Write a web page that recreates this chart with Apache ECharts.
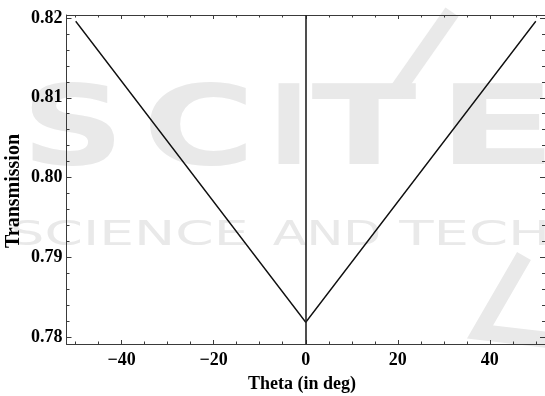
<!DOCTYPE html>
<html>
<head>
<meta charset="utf-8">
<style>
  html, body { margin: 0; padding: 0; background: #ffffff; }
  #chart { width: 545px; height: 396px; }
</style>
<script src="https://cdn.jsdelivr.net/npm/echarts@6/dist/echarts.min.js"></script>
</head>
<body>
<div id="chart"></div>
<script>
// Transmission versus incidence angle
const theta = [-50, 0, 50];
const transmission = [0.8196, 0.78185, 0.8196];
// angle where the curve jumps
const jumpTheta = [0];

// frame ticks
const xMajorTicks = [-40, -20, 0, 20, 40];
const xMinorTicks = [-50, -45, -35, -30, -25, -15, -10, -5, 5, 10, 15, 25, 30, 35, 45, 50];
const yMajorTicks = [0.78, 0.79, 0.80, 0.81, 0.82];
const yMinorTicks = [0.782, 0.784, 0.786, 0.788, 0.792, 0.794, 0.796, 0.798,
                     0.802, 0.804, 0.806, 0.808, 0.812, 0.814, 0.816, 0.818];

const xRange = [-52, 52];
const yRange = [0.77912, 0.82038];

const serif = '"Liberation Serif", "Times New Roman", serif';
const frameColor = '#3a3a3a';

function xAxisDef(position, ticks, len, withLine, withLabels) {
  return {
    type: 'value', position: position, min: xRange[0], max: xRange[1],
    axisLine: { show: withLine, onZero: false, lineStyle: { color: frameColor, width: 1 } },
    axisTick: { show: true, inside: true, length: len, customValues: ticks,
                lineStyle: { color: frameColor, width: 1 } },
    axisLabel: withLabels ? {
      show: true, customValues: ticks, margin: 7,
      fontFamily: serif, fontWeight: 'bold', fontSize: 18, color: '#000',
      formatter: v => (v < 0 ? '\u2212' + Math.abs(v) : String(v))
    } : { show: false },
    splitLine: { show: false }
  };
}

function yAxisDef(position, ticks, len, withLine, withLabels) {
  return {
    type: 'value', position: position, min: yRange[0], max: yRange[1],
    axisLine: { show: withLine, onZero: false, lineStyle: { color: frameColor, width: 1 } },
    axisTick: { show: true, inside: true, length: len, customValues: ticks,
                lineStyle: { color: frameColor, width: 1 } },
    axisLabel: withLabels ? {
      show: true, customValues: ticks, margin: 4,
      fontFamily: serif, fontWeight: 'bold', fontSize: 18, color: '#000',
      formatter: v => v.toFixed(2)
    } : { show: false },
    splitLine: { show: false }
  };
}

// faint publisher mark behind the plot
const markColor = '#e9e9e9';
const markFont = '"DejaVu Sans", sans-serif';
function bigLetter(ch, cx, sx) {
  return { type: 'text', x: cx, y: 135, scaleX: sx, z: -10, silent: true,
           style: { text: ch, font: 'bold 110px ' + markFont, fill: markColor,
                    align: 'center', verticalAlign: 'middle' } };
}
function smallWord(w, cx, sx) {
  return { type: 'text', x: cx, y: 236, scaleX: sx, z: -10, silent: true,
           style: { text: w, font: 'normal 34px ' + markFont, fill: markColor,
                    align: 'center', verticalAlign: 'middle' } };
}

const chart = echarts.init(document.getElementById('chart'), null, { renderer: 'canvas' });
chart.setOption({
  animation: false,
  backgroundColor: '#ffffff',
  grid: { left: 66.5, top: 15, width: 481, height: 329, containLabel: false },
  xAxis: [
    xAxisDef('bottom', xMajorTicks, 4, true, true),
    xAxisDef('bottom', xMinorTicks, 2.5, false, false),
    xAxisDef('top', xMajorTicks, 4, true, false),
    xAxisDef('top', xMinorTicks, 2.5, false, false)
  ],
  yAxis: [
    yAxisDef('left', yMajorTicks, 5, true, true),
    yAxisDef('left', yMinorTicks, 3, false, false),
    yAxisDef('right', yMajorTicks, 5, true, false),
    yAxisDef('right', yMinorTicks, 3, false, false)
  ],
  graphic: {
    elements: [
      bigLetter('S', 73, 1.3),
      bigLetter('C', 199, 1.4),
      bigLetter('I', 289, 1.0),
      bigLetter('T', 364, 1.4),
      bigLetter('E', 497, 1.6),
      smallWord('SCIENCE', 129, 1.62),
      smallWord('AND', 327, 1.45),
      smallWord('TECHNOLOGY', 592, 1.65),
      { type: 'polyline', z: -10, silent: true,
        shape: { points: [[396, 92], [452, 12]] },
        style: { stroke: markColor, lineWidth: 16, fill: null } },
      { type: 'polyline', z: -10, silent: true,
        shape: { points: [[524, 256], [480, 332], [548, 340]] },
        style: { stroke: markColor, lineWidth: 16, fill: null, lineJoin: 'miter' } },
      { type: 'text', x: 302, y: 384, silent: true,
        style: { text: 'Theta (in deg)', font: 'bold 18px ' + serif, fill: '#000',
                 align: 'center', verticalAlign: 'middle' } },
      { type: 'text', x: 14, y: 191, rotation: Math.PI / 2, silent: true,
        style: { text: 'Transmission', font: 'bold 20px ' + serif, fill: '#000',
                 align: 'center', verticalAlign: 'middle' } }
    ]
  },
  series: [
    {
      type: 'line',
      xAxisIndex: 0, yAxisIndex: 0,
      data: theta.map((t, i) => [t, transmission[i]]),
      showSymbol: false,
      lineStyle: { color: '#111111', width: 1.4 },
      markLine: {
        silent: true, symbol: 'none', label: { show: false },
        lineStyle: { color: '#222222', width: 1.6, type: 'solid' },
        data: jumpTheta.map(t => ({ xAxis: t }))
      },
      z: 3
    }
  ]
});
</script>
</body>
</html>
